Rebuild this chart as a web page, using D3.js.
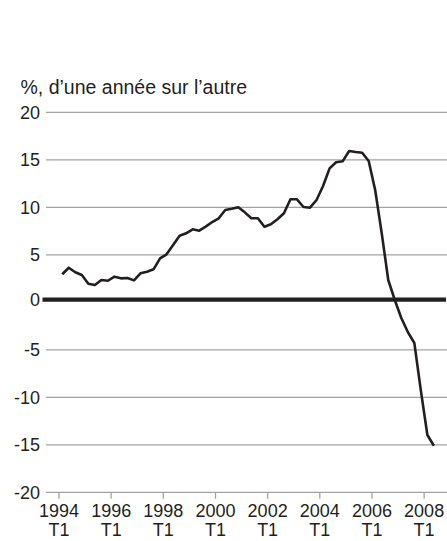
<!DOCTYPE html>
<html><head><meta charset="utf-8">
<script src="https://cdn.jsdelivr.net/npm/d3@7"></script>
<style>
html,body{margin:0;padding:0;background:#fff;}
svg{display:block;font-family:"Liberation Sans",Arial,Helvetica,sans-serif;}
</style></head>
<body>
<svg id="chart" width="447" height="541"></svg>
<script>
// Data
const years = [1994,1995,1996,1997,1998,1999,2000,2001,2002,2003,2004,2005,2006,2007,2008];
const quarterNames = ["T1","T2","T3","T4"];
const values = [
  2.95, 3.64, 3.16, 2.87, 1.96, 1.82, 2.35, 2.27,
  2.70, 2.52, 2.56, 2.31, 3.05, 3.22, 3.47, 4.63,
  5.05, 6.03, 7.01, 7.26, 7.68, 7.54, 7.96, 8.45,
  8.84, 9.72, 9.85, 10.0, 9.47, 8.84, 8.84, 7.96,
  8.21, 8.74, 9.37, 10.84, 10.84, 10.03, 9.96, 10.77,
  12.24, 14.1, 14.74, 14.84, 15.93, 15.82, 15.75, 14.87,
  11.8, 7.26, 2.35, 0.24, -1.65, -3.13, -4.28, -9.3,
  -13.97, -15.1
];
const yTicks = [20,15,10,5,0,-5,-10,-15,-20];
const xTickYears = ["1994","1996","1998","2000","2002","2004","2006","2008"];
const xTickQuarter = "T1";
const yTitle = "%, d\u2019une ann\u00e9e sur l\u2019autre";

const quarters = [];
years.forEach(y => quarterNames.forEach(q => quarters.push(y + " " + q)));
const series = values.map((v,i) => ({label: quarters[i], idx: i, v}));

const svg = d3.select("#chart");
const ink = "#231f20";

const y = d3.scaleLinear().domain([-20,20]).range([492.3,112.3]);
const x = d3.scaleLinear().domain([0,60]).range([59, 59 + 6.52*60]);

// gridlines
svg.append("g").selectAll("line").data(yTicks.filter(d => d !== 0)).join("line")
  .attr("x1",46).attr("x2",447)
  .attr("y1",d=>y(d)).attr("y2",d=>y(d))
  .attr("stroke","#a3a3a3").attr("stroke-width",1.3);

// y labels
svg.append("g").selectAll("text").data(yTicks).join("text")
  .attr("x",40).attr("y",d=>y(d) + (d===0 ? -2.5 : 0)).attr("dy","0.36em")
  .attr("text-anchor","end").attr("font-size",18).attr("fill",ink)
  .text(d=>d);

// x ticks
const tickIdx = xTickYears.map((t,k) => k*8);
const xg = svg.append("g");
xg.selectAll("line").data(tickIdx).join("line")
  .attr("x1",d=>x(d)).attr("x2",d=>x(d))
  .attr("y1",y(-20)).attr("y2",y(-20)+6.5)
  .attr("stroke","#a3a3a3").attr("stroke-width",1.3);
xg.selectAll("text.yr").data(xTickYears).join("text").attr("class","yr")
  .attr("x",(d,k)=>x(tickIdx[k])).attr("y",516.5)
  .attr("text-anchor","middle").attr("font-size",18).attr("fill",ink)
  .text(d=>d);
xg.selectAll("text.q").data(xTickYears).join("text").attr("class","q")
  .attr("x",(d,k)=>x(tickIdx[k])).attr("y",535.5)
  .attr("text-anchor","middle").attr("font-size",18).attr("fill",ink)
  .text(xTickQuarter);

// zero line
svg.append("line").attr("x1",42.5).attr("x2",446)
  .attr("y1",y(0)-2.6).attr("y2",y(0)-2.6)
  .attr("stroke",ink).attr("stroke-width",4.2);

// data line
const line = d3.line().x(d=>x(d.idx+0.5)).y(d=>y(d.v));
svg.append("path").datum(series).attr("d",line)
  .attr("fill","none").attr("stroke",ink).attr("stroke-width",2.6)
  .attr("stroke-linejoin","round");

// title
svg.append("text").attr("x",20.5).attr("y",93.5)
  .attr("font-size",19.5).attr("fill",ink).text(yTitle);
</script>
</body></html>
